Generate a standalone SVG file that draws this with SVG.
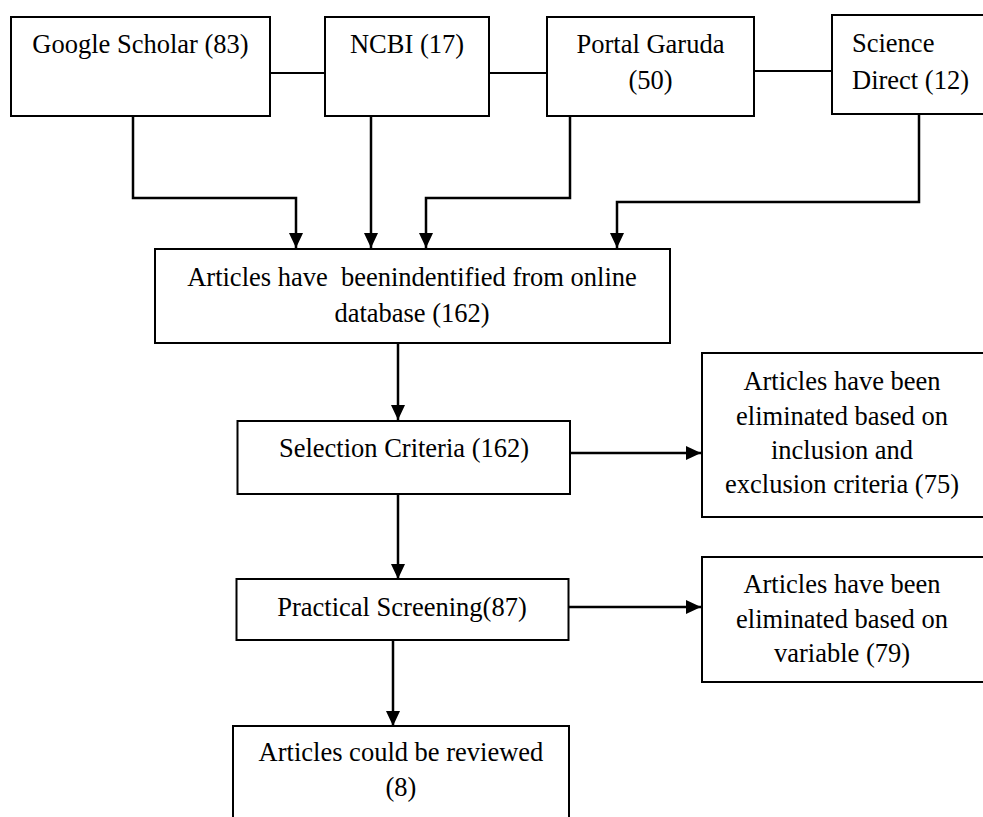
<svg xmlns="http://www.w3.org/2000/svg" width="983" height="817" viewBox="0 0 983 817">
<style>
  .box{fill:#fff;stroke:#000;stroke-width:2}
  .t{font-family:"Liberation Serif","Times New Roman",serif;font-size:26.5px;fill:#000;text-anchor:middle}
  .ts{text-anchor:start}
  .ln{fill:none;stroke:#000;stroke-width:2}
  .ar{fill:none;stroke:#000;stroke-width:2.5}
</style>
<defs>
  <marker id="ah" markerUnits="userSpaceOnUse" markerWidth="16" markerHeight="16" viewBox="0 0 16 16" refX="15" refY="8" orient="auto">
    <path d="M0,1 L15,8 L0,15 Z" fill="#000"/>
  </marker>
</defs>
<rect width="983" height="817" fill="#fff"/>

<g id="connectors">
  <line class="ln" x1="270" y1="73" x2="325" y2="73"/>
  <line class="ln" x1="489" y1="73" x2="547" y2="73"/>
  <line class="ln" x1="754" y1="71" x2="833" y2="71"/>
  <polyline class="ar" points="133,116 133,198 296,198 296,248" marker-end="url(#ah)"/>
  <polyline class="ar" points="371,116 371,248" marker-end="url(#ah)"/>
  <polyline class="ar" points="570,116 570,198 426,198 426,248" marker-end="url(#ah)"/>
  <polyline class="ar" points="919,114 919,202 617,202 617,248" marker-end="url(#ah)"/>
  <polyline class="ar" points="398,343 398,420" marker-end="url(#ah)"/>
  <polyline class="ar" points="570,453 701,453" marker-end="url(#ah)"/>
  <polyline class="ar" points="398,494 398,579" marker-end="url(#ah)"/>
  <polyline class="ar" points="568,607 701,607" marker-end="url(#ah)"/>
  <polyline class="ar" points="393,640 393,726" marker-end="url(#ah)"/>
</g>

<g id="google-scholar">
  <rect class="box" x="11" y="17" width="259" height="99"/>
  <text class="t" x="140.5" y="53">Google Scholar (83)</text>
</g>
<g id="ncbi">
  <rect class="box" x="325" y="17" width="164" height="99"/>
  <text class="t" x="407" y="53">NCBI (17)</text>
</g>
<g id="portal-garuda">
  <rect class="box" x="547" y="17" width="207" height="99"/>
  <text class="t" x="650.5" y="53">Portal Garuda</text>
  <text class="t" x="650.5" y="89">(50)</text>
</g>
<g id="science-direct">
  <rect class="box" x="832" y="15" width="160" height="99"/>
  <text class="t ts" x="852" y="52">Science</text>
  <text class="t ts" x="852" y="89">Direct (12)</text>
</g>
<g id="identified">
  <rect class="box" x="155" y="249" width="515" height="94"/>
  <text class="t" x="412" y="286" style="white-space:pre">Articles have  beenindentified from online</text>
  <text class="t" x="412" y="322">database (162)</text>
</g>
<g id="selection">
  <rect class="box" x="237.5" y="421" width="332.5" height="73"/>
  <text class="t" x="404" y="457">Selection Criteria (162)</text>
</g>
<g id="eliminated-criteria">
  <rect class="box" x="702" y="353" width="290" height="164"/>
  <text class="t" x="842" y="390">Articles have been</text>
  <text class="t" x="842" y="425">eliminated based on</text>
  <text class="t" x="842" y="459">inclusion and</text>
  <text class="t" x="842" y="493">exclusion criteria (75)</text>
</g>
<g id="practical">
  <rect class="box" x="236.5" y="579" width="332" height="61"/>
  <text class="t" x="402" y="616">Practical Screening(87)</text>
</g>
<g id="eliminated-variable">
  <rect class="box" x="702" y="557" width="290" height="125"/>
  <text class="t" x="842" y="593">Articles have been</text>
  <text class="t" x="842" y="628">eliminated based on</text>
  <text class="t" x="842" y="662">variable (79)</text>
</g>
<g id="reviewed">
  <rect class="box" x="233" y="726" width="336" height="100"/>
  <text class="t" x="401" y="761">Articles could be reviewed</text>
  <text class="t" x="401" y="796">(8)</text>
</g>
</svg>
